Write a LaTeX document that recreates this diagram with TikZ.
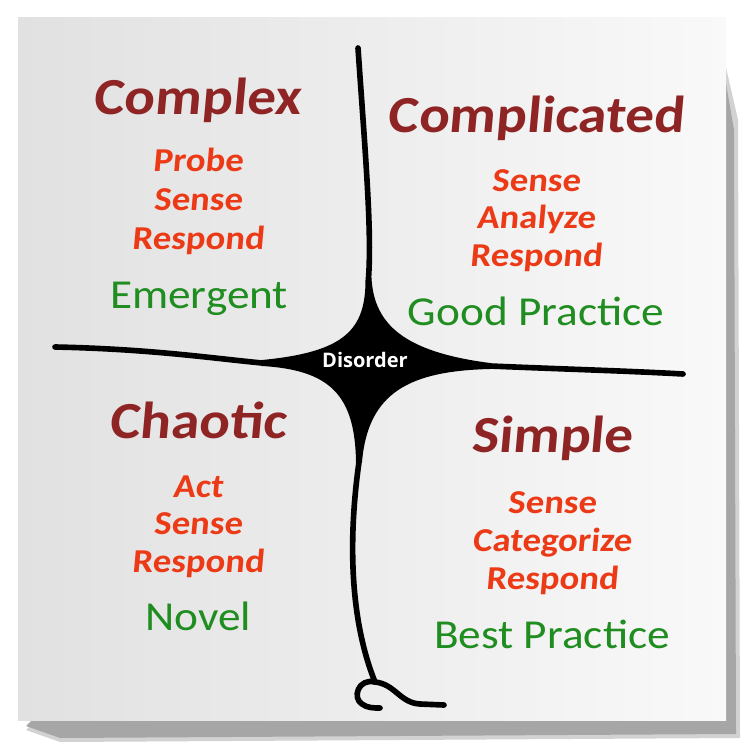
\documentclass[tikz,border=0pt]{standalone}
\usepackage{fontspec}
\setmainfont{Carlito}[FakeStretch=1.1]
\newfontfamily\leanfont{Carlito}[FakeStretch=1.1, FakeSlant=0.09]
\newfontfamily\disorderfont{Open Sans}
\usepackage{xcolor}
\definecolor{domainred}{HTML}{8E2424}
\definecolor{movered}{HTML}{EC3A17}
\definecolor{practicegreen}{HTML}{1F8D1F}
\definecolor{paperleft}{HTML}{E1E1E1}
\definecolor{paperright}{HTML}{F9F9F9}

\begin{document}
\begin{tikzpicture}
  [x=0.01cm, y=-0.01cm,
   domainname/.style={anchor=base, inner sep=0pt, text=domainred,
     font=\leanfont\fontsize{14.8pt}{17pt}\selectfont\bfseries},
   moves/.style={anchor=base, inner sep=0pt, text=movered,
     font=\leanfont\fontsize{9.5pt}{11pt}\selectfont\bfseries},
   practice/.style={anchor=base, inner sep=0pt, text=practicegreen,
     font=\fontsize{11.7pt}{14pt}\selectfont},
   inkline/.style={line width=1.6pt, line cap=round, line join=round},
  ]
  \useasboundingbox[fill=white] (0,0) rectangle (753,755);

  % paper and its shadow
  \fill[gray!35] (722,50) -- (738,120) -- (740,738) -- (60,742) -- (26,730) -- cycle;
  \fill[gray!70] (722,60) -- (734,130) -- (736,734) -- (60,738) -- (26,726) -- cycle;
  \shade[left color=paperleft, right color=paperright] (18,18) rectangle (726,720);

  \coordinate (top) at (358,48);
  \coordinate (left) at (55,347);
  \coordinate (right) at (683,374);
  \coordinate (foot) at (375,682);
  \coordinate (curl) at (380,708);
  \coordinate (toe) at (444,705);
  \coordinate (ntip) at (368.5,278);
  \coordinate (wtip) at (262,363);
  \coordinate (etip) at (490,366);
  \coordinate (stip) at (359,462);

  % the two crossing lines
  \draw[inkline] (top) .. controls (365,150) and (372,230) .. (ntip);
  \draw[inkline] (left) .. controls (150,349) and (210,358) .. (wtip);
  \draw[inkline] (etip) .. controls (560,369) and (630,371) .. (right);
  \draw[inkline] (stip) .. controls (348,540) and (350,620) .. (foot);
  \draw[inkline] (foot) .. controls (358,678) and (352,698) .. (362,704)
                        .. controls (367,708) and (374,708) .. (curl);
  \draw[inkline] (foot) .. controls (395,684) and (400,703) .. (420,704) -- (toe);

  % disorder blob
  \fill (365.5,278) .. controls (366,330) and (345,352) .. (262,360) -- (262,366)
        .. controls (330,370) and (355,395) .. (356,462) -- (362,462)
        .. controls (368,392) and (410,371) .. (490,369) -- (490,363)
        .. controls (405,352) and (374,325) .. (371.5,278) -- cycle;
  \node[anchor=base, inner sep=0pt, text=white,
        font=\disorderfont\fontsize{5.7pt}{7pt}\selectfont\bfseries] (disorder) at (365,367) {Disorder};

  % complex
  \node[domainname] (cx) at (197,115) {Complex};
  \node[moves] (cx1) at (198,172) {Probe};
  \node[moves] (cx2) at (198,211) {Sense};
  \node[moves] (cx3) at (198,250) {Respond};
  \node[practice] (cxp) at (199,308) {Emergent};

  % complicated
  \node[domainname] (cd) at (536,133) {Complicated};
  \node[moves] (cd1) at (536,192) {Sense};
  \node[moves] (cd2) at (536,229) {Analyze};
  \node[moves] (cd3) at (536,267) {Respond};
  \node[practice] (cdp) at (536,326) {Good Practice};

  % chaotic
  \node[domainname] (ch) at (198,438) {Chaotic};
  \node[moves] (ch1) at (198,497) {Act};
  \node[moves] (ch2) at (198,534) {Sense};
  \node[moves] (ch3) at (198,572) {Respond};
  \node[practice] (chp) at (198,630) {Novel};

  % simple
  \node[domainname] (sp) at (552,452) {Simple};
  \node[moves] (sp1) at (552,513) {Sense};
  \node[moves] (sp2) at (552,551) {Categorize};
  \node[moves] (sp3) at (552,589) {Respond};
  \node[practice] (spp) at (552,648) {Best Practice};

\end{tikzpicture}
\end{document}
